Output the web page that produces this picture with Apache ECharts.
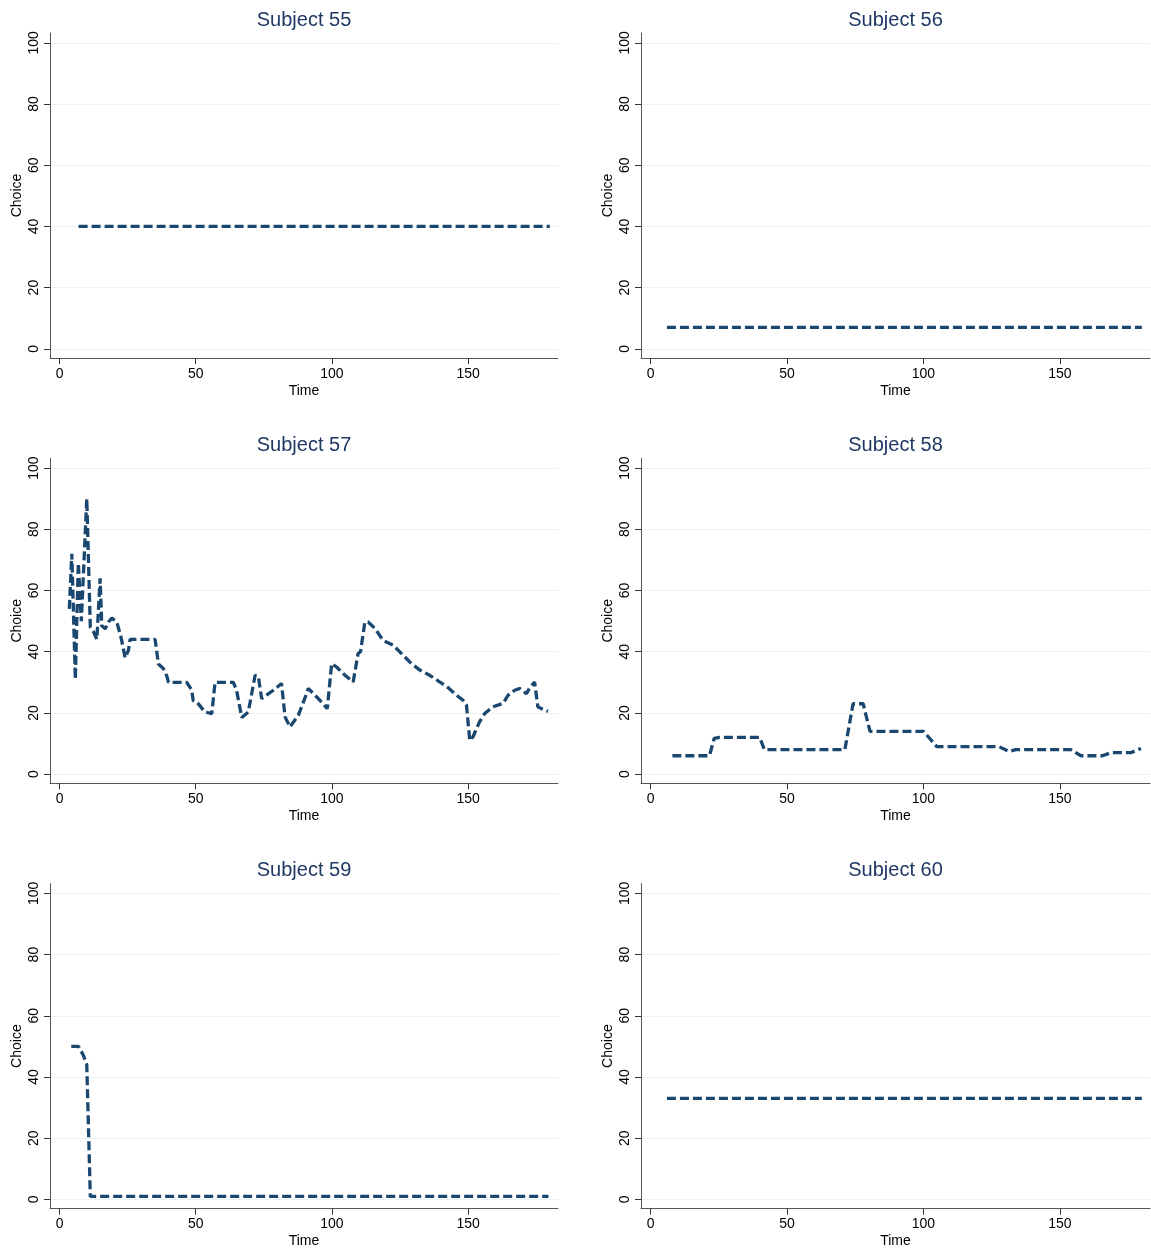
<!DOCTYPE html>
<html><head><meta charset="utf-8">
<script src="https://cdn.jsdelivr.net/npm/echarts@6/dist/echarts.min.js"></script>
<style>html,body{margin:0;padding:0;background:#fff}#c{width:1151px;height:1252px}</style>
</head><body><div id="c"></div>
<script>
const titles = ['Subject 55','Subject 56','Subject 57','Subject 58','Subject 59','Subject 60'];
const xTicks = [0, 50, 100, 150];
const yTicks = [0, 20, 40, 60, 80, 100];

const s55Time = [7, 180];
const s55Choice = [40, 40];

const s56Time = [6, 180];
const s56Choice = [7, 7];

const s57Time = [3.6, 4.5, 5.8, 6.9, 8.0, 10.0, 11.3, 12.5, 13.7, 14.9, 15.5, 16.8, 18.0, 19.2, 21.0, 22.5, 24.1, 25.3, 25.9, 35.1, 36.3, 38.1, 39.4, 40.0, 46.7, 48.5, 49.1, 50.4, 53.4, 55.9, 57.1, 63.8, 65.0, 66.9, 69.3, 71.8, 73.0, 74.2, 76.0, 78.5, 81.5, 82.8, 84.6, 87.7, 90.7, 91.3, 95.0, 98.3, 99.9, 101.7, 104.8, 107.8, 109.6, 110.5, 112.1, 113.3, 115.8, 118.8, 122.5, 126.1, 129.2, 132.3, 135.9, 139.6, 142.6, 145.7, 148.1, 149.4, 150.6, 151.8, 154.2, 156.1, 159.1, 162.8, 164.7, 167.1, 168.9, 171.4, 172.5, 174.4, 175.6, 176.9, 179.3];
const s57Choice = [54, 72, 31, 69, 50, 90, 48, 46.5, 44, 64, 48.5, 47.5, 49.7, 51, 49.7, 45, 38, 40.5, 44, 44, 36, 34.5, 32, 30, 30, 27.5, 24, 23.6, 20.3, 19.8, 30, 30, 27.4, 18.5, 20.3, 32.3, 31.8, 24.7, 25.8, 27.4, 29.6, 18.7, 15.4, 19.3, 26.3, 28, 24.7, 21.4, 36.1, 35, 32.3, 30.1, 39.4, 40, 49.7, 49.7, 47.6, 43.7, 42.1, 38.9, 36.1, 34, 32.3, 30.1, 28.3, 25.8, 24.2, 22.5, 11, 12.2, 17.1, 19.8, 22, 23.1, 25.8, 27.4, 28, 26.3, 28, 30.1, 22, 21.4, 20.5];

const s58Time = [8, 21.6, 23.3, 25.2, 40, 41.7, 71.2, 74.2, 77.9, 80.4, 100, 104.9, 127.6, 131.3, 133.8, 154, 157.7, 165.6, 168.7, 176, 179.7];
const s58Choice = [6, 6, 11.7, 12, 12, 8, 8, 23, 23, 14, 14, 9, 9, 7.4, 8, 8, 6, 6, 7, 7, 8.4];

const s59Time = [4.3, 7, 8.8, 10, 11.3, 179.5];
const s59Choice = [50, 50, 47, 44, 1, 1];

const s60Time = [6, 180];
const s60Choice = [33, 33];

const allTimes = [s55Time, s56Time, s57Time, s58Time, s59Time, s60Time];
const allChoices = [s55Choice, s56Choice, s57Choice, s58Choice, s59Choice, s60Choice];

const chart = echarts.init(document.getElementById('c'));
const font = '"Liberation Sans", Arial, Helvetica, sans-serif';
const grids = [], xAxes = [], yAxes = [], series = [], titleArr = [];
for (let i = 0; i < 6; i++) {
  const col = i % 2, row = Math.floor(i / 2);
  const left = col ? 641 : 50;
  const width = col ? 509 : 508;
  const top = 33 + 425.3 * row;
  grids.push({left: left, top: top, width: width, height: 325, containLabel: false});
  titleArr.push({
    text: titles[i], left: left + width / 2, top: top - 23, textAlign: 'center', padding: 0,
    textStyle: {fontFamily: font, fontSize: 20, fontWeight: 'normal', color: '#1f3864'}
  });
  xAxes.push({
    type: 'value', gridIndex: i, min: -3.5, max: 183,
    name: 'Time', nameLocation: 'middle', nameGap: 26,
    nameTextStyle: {fontFamily: font, fontSize: 14, color: '#000'},
    axisLine: {show: true, onZero: false, lineStyle: {color: '#555', width: 1}},
    axisTick: {show: true, length: 6, customValues: xTicks, lineStyle: {color: '#333'}},
    axisLabel: {customValues: xTicks, margin: 9, fontFamily: font, fontSize: 14, color: '#000'},
    splitLine: {show: false}
  });
  yAxes.push({
    type: 'value', gridIndex: i, min: -3, max: 103.2,
    name: 'Choice', nameLocation: 'middle', nameGap: 26,
    nameTextStyle: {fontFamily: font, fontSize: 14, color: '#000'},
    axisLine: {show: true, onZero: false, lineStyle: {color: '#555', width: 1}},
    axisTick: {show: true, length: 6, customValues: yTicks, lineStyle: {color: '#333'}},
    axisLabel: {customValues: yTicks, rotate: 90, margin: 9, fontFamily: font, fontSize: 14, color: '#000'},
    splitLine: {show: true, lineStyle: {color: '#eaf2f3', width: 1}}
  });
  series.push({
    type: 'line', xAxisIndex: i, yAxisIndex: i, symbol: 'none', silent: true,
    data: allTimes[i].map((t, k) => [t, allChoices[i][k]]),
    lineStyle: {color: '#1a476f', width: 3.3, type: [9, 4]},
    animation: false
  });
}
chart.setOption({
  animation: false, backgroundColor: '#fff',
  title: titleArr, grid: grids, xAxis: xAxes, yAxis: yAxes, series: series
});
</script></body></html>
